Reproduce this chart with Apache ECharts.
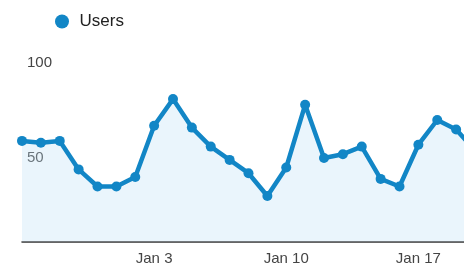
<!DOCTYPE html>
<html>
<head>
<meta charset="utf-8">
<script src="https://cdn.jsdelivr.net/npm/echarts@6/dist/echarts.min.js"></script>
<style>
  html, body { margin: 0; padding: 0; background: #fff; overflow: hidden; }
  /* the last day runs off the right edge, as in the cropped original */
  #users-chart { width: 475px; height: 268px; }
</style>
</head>
<body>
<div id="users-chart"></div>
<script>
const days = ['Dec 27', 'Dec 28', 'Dec 29', 'Dec 30', 'Dec 31', 'Jan 1', 'Jan 2',
  'Jan 3', 'Jan 4', 'Jan 5', 'Jan 6', 'Jan 7', 'Jan 8', 'Jan 9',
  'Jan 10', 'Jan 11', 'Jan 12', 'Jan 13', 'Jan 14', 'Jan 15', 'Jan 16',
  'Jan 17', 'Jan 18', 'Jan 19', 'Jan 20'];
const users = [59, 58, 59, 44, 35, 35, 40, 67, 81, 66, 56, 49, 42, 30,
  45, 78, 50, 52, 56, 39, 35, 57, 70, 65, 54];
const yTicks = [50, 100];

const chart = echarts.init(document.getElementById('users-chart'));
const blue = '#1286c6';

chart.setOption({
  animation: false,
  legend: {
    data: ['Users'],
    left: 50,
    top: 8,
    icon: 'circle',
    itemWidth: 25,
    itemHeight: 14,
    textStyle: { color: '#222', fontSize: 17, fontFamily: 'Liberation Sans, Arial' }
  },
  grid: { left: 22, right: 0, top: 25, bottom: 15 },
  xAxis: {
    type: 'category',
    data: days,
    boundaryGap: false,
    offset: -11,
    axisLine: { lineStyle: { color: '#333', width: 1.5 } },
    axisTick: { show: false },
    axisLabel: {
      interval: (i) => i > 0 && i % 7 === 0,
      color: '#444',
      fontSize: 15,
      margin: 9,
      fontFamily: 'Liberation Sans, Arial'
    }
  },
  yAxis: {
    type: 'value',
    min: 0,
    max: 120,
    interval: 50,
    axisLine: { show: false },
    axisTick: { show: false },
    splitLine: { show: false },
    axisLabel: {
      inside: true,
      margin: 5,
      color: '#444',
      fontSize: 15,
      fontFamily: 'Liberation Sans, Arial',
      formatter: (v) => (yTicks.includes(v) ? String(v) : '')
    }
  },
  series: [
    {
      name: 'Users',
      type: 'line',
      data: users,
      color: blue,
      symbol: 'circle',
      symbolSize: 10,
      lineStyle: { width: 4.5, color: blue },
      itemStyle: { color: blue },
      areaStyle: { color: 'rgba(190, 225, 245, 0.45)', origin: 6 }
    }
  ]
});
</script>
</body>
</html>
